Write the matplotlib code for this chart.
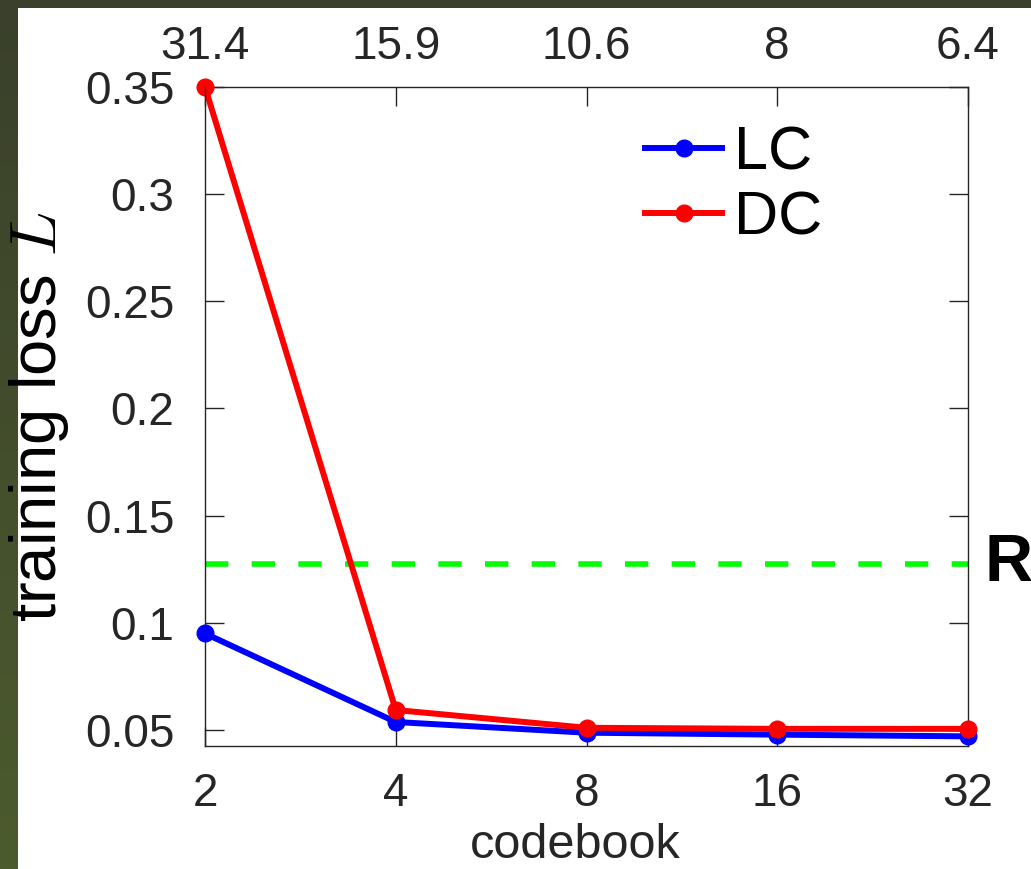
import numpy as np
import matplotlib
matplotlib.use('Agg')
import matplotlib.pyplot as plt
from matplotlib.patches import Rectangle
from matplotlib.ticker import FormatStrFormatter, NullLocator

plt.rcParams['font.family'] = ['Liberation Sans', 'DejaVu Sans']
plt.rcParams['mathtext.fontset'] = 'cm'

# data
codebook = [2, 4, 8, 16, 32]
top_labels = ['31.4', '15.9', '10.6', '8', '6.4']
loss_lc = [0.0950, 0.0537, 0.0487, 0.0478, 0.0470]
loss_dc = [0.3500, 0.0593, 0.0510, 0.0505, 0.0505]
ref_loss = 0.1276
y_ticks = [0.05, 0.1, 0.15, 0.2, 0.25, 0.3, 0.35]

W, H = 1031, 869
fig = plt.figure(figsize=(W / 100, H / 100), dpi=100)

# dark olive background strip with a slight vertical gradient, then white page
bg = fig.add_axes([0, 0, 1, 1], zorder=-10)
grad = np.linspace(0, 1, 256).reshape(-1, 1)
cmap = matplotlib.colors.LinearSegmentedColormap.from_list('olive', ['#3a402b', '#4c5b2e'])
bg.imshow(grad, aspect='auto', cmap=cmap, extent=[0, 1, 1, 0])
bg.add_patch(Rectangle((18 / W, 0), 1, 1 - 8 / H, facecolor='white', edgecolor='none',
                       transform=bg.transAxes))
bg.set_xlim(0, 1)
bg.set_ylim(1, 0)
bg.axis('off')

ax = fig.add_axes([205 / W, (H - 746) / H, (968 - 205) / W, (746 - 87) / H])
ax.set_facecolor('none')

ax.axhline(ref_loss, color='#00ff00', lw=4, dashes=(4.2, 4.2), zorder=1)
ax.plot(codebook, loss_lc, '-o', color='#0000ff', lw=4.3, ms=12, label='LC', clip_on=False, zorder=3)
ax.plot(codebook, loss_dc, '-o', color='#ff0000', lw=4.3, ms=12, label='DC', clip_on=False, zorder=4)

ax.set_xscale('log', base=2)
ax.set_xlim(2, 32)
ax.set_ylim(0.0425, 0.35)
ax.set_xticks(codebook)
ax.set_xticklabels([str(c) for c in codebook])
ax.xaxis.set_minor_locator(NullLocator())
ax.set_yticks(y_ticks)
ax.yaxis.set_major_formatter(FormatStrFormatter('%g'))

tick_color = '#262626'
ax.tick_params(axis='both', direction='in', length=14, width=1, color=tick_color,
               labelsize=33, labelcolor=tick_color, top=True, right=True)
ax.tick_params(axis='x', pad=19)
ax.tick_params(axis='y', pad=22)
for s in ax.spines.values():
    s.set_color(tick_color)
    s.set_linewidth(1)

ax.set_xlabel('codebook', fontsize=35, color=tick_color, labelpad=1)
ax.xaxis.set_label_coords(0.485, -0.117)
ax.set_ylabel('training loss $L$', fontsize=47, color='black', labelpad=10)

ax2 = ax.twiny()
ax2.set_xscale('log', base=2)
ax2.set_xlim(ax.get_xlim())
ax2.set_xticks(codebook)
ax2.set_xticklabels(top_labels)
ax2.xaxis.set_minor_locator(NullLocator())
ax2.tick_params(axis='x', direction='in', length=14, width=1, color=tick_color,
                labelsize=33, labelcolor=tick_color, pad=13)
for s in ax2.spines.values():
    s.set_visible(False)

ax.text(1.022, ref_loss, 'R', transform=ax.get_yaxis_transform(), fontsize=48,
        fontweight='bold', va='center', ha='left', clip_on=False)

leg = ax.legend(loc='upper right', bbox_to_anchor=(0.865, 1.006), fontsize=44, frameon=False,
                handlelength=1.25, handletextpad=0.2, labelspacing=0.12, borderpad=0.2)

fig.savefig('out.png', dpi=100)
